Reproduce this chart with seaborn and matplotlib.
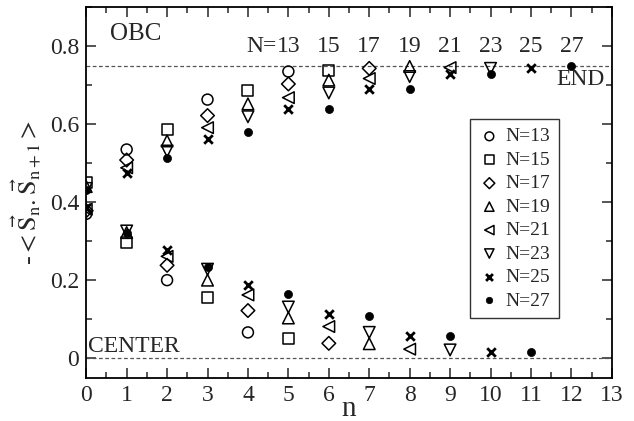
import matplotlib
matplotlib.use("Agg")
import matplotlib.pyplot as plt
from matplotlib.ticker import MultipleLocator
from matplotlib import font_manager
import seaborn as sns
import pandas as pd

# Nearest-neighbour spin correlations along open chains of N sites
chain_sizes = [13, 15, 17, 19, 21, 23, 25, 27]
corr_13 = [0.370, 0.535, 0.200, 0.663, 0.066, 0.735]
corr_15 = [0.450, 0.296, 0.587, 0.155, 0.686, 0.050, 0.738]
corr_17 = [0.378, 0.508, 0.238, 0.622, 0.122, 0.703, 0.038, 0.743]
corr_19 = [0.440, 0.322, 0.557, 0.200, 0.652, 0.103, 0.713, 0.037, 0.748]
corr_21 = [0.382, 0.488, 0.261, 0.591, 0.162, 0.668, 0.081, 0.717, 0.023, 0.745]
corr_23 = [0.435, 0.326, 0.531, 0.228, 0.619, 0.131, 0.680, 0.066, 0.722, 0.021, 0.743]
corr_25 = [0.384, 0.476, 0.278, 0.563, 0.188, 0.638, 0.113, 0.691, 0.056, 0.728, 0.017, 0.745]
corr_27 = [0.430, 0.320, 0.514, 0.234, 0.581, 0.165, 0.638, 0.109, 0.690, 0.056, 0.728, 0.016, 0.750]
correlations = [corr_13, corr_15, corr_17, corr_19, corr_21, corr_23, corr_25, corr_27]

markers = ["o", "s", "D", "^", "<", "v", "x", "o"]
x_ticks = list(range(0, 14))
y_ticks = [0, 0.2, 0.4, 0.6, 0.8]
y_tick_labels = ["0", "0.2", "0.4", "0.6", "0.8"]
edge_value = 0.75
center_value = 0.0

sns.set_style("ticks")
serif_names = [f.name for f in font_manager.fontManager.ttflist if "Liberation Serif" in f.name]
plt.rcParams["font.family"] = "serif"
plt.rcParams["font.serif"] = (serif_names[:1] or []) + ["Liberation Serif", "Times New Roman", "DejaVu Serif"]
plt.rcParams["mathtext.fontset"] = "stix"

fig = plt.figure(figsize=(6.34, 4.21), dpi=100)
ax = fig.add_axes([0.136, 0.103, 0.829, 0.880])

ax.axhline(edge_value, color="#555555", ls=(0, (3, 2)), lw=0.9, zorder=1)
ax.axhline(center_value, color="#555555", ls=(0, (3, 2)), lw=0.9, zorder=1)

for N, vals, m in zip(chain_sizes, correlations, markers):
    df = pd.DataFrame({"n": range(len(vals)), "corr": vals})
    label = f"N={N}"
    if m == "x":
        sns.scatterplot(data=df, x="n", y="corr", marker="x", color="black",
                        s=38, linewidth=2.0, ax=ax, label=label, zorder=3)
    elif N == 27:
        sns.scatterplot(data=df, x="n", y="corr", marker="o", color="black",
                        edgecolor="black", s=34, linewidth=0.5, ax=ax,
                        label=label, zorder=3)
    else:
        size = 48 if m == "D" else (70 if m in ("^", "<", "v") else 62)
        sns.scatterplot(data=df, x="n", y="corr", marker=m, facecolor="none",
                        edgecolor="black", s=size, linewidth=1.1, ax=ax,
                        label=label, zorder=3)

ax.set_xlim(0, 13)
ax.set_ylim(-0.05, 0.9)
ax.set_xticks(x_ticks)
ax.set_yticks(y_ticks)
ax.set_yticklabels(y_tick_labels)
ax.xaxis.set_minor_locator(MultipleLocator(0.5))
ax.yaxis.set_minor_locator(MultipleLocator(0.1))
ax.tick_params(which="both", direction="in", top=True, right=True,
               labelsize=17, width=1.1, pad=5)
ax.tick_params(which="major", length=7.5)
ax.tick_params(which="minor", length=4)
for sp in ax.spines.values():
    sp.set_linewidth(1.3)
    sp.set_color("black")

ax.set_xlabel("n", fontsize=21)
ax.xaxis.set_label_coords(0.5, -0.085)
ax.xaxis.label.set_va("center")
ax.set_ylabel(r"-$<\vec{\mathrm{S}}_{\mathrm{n}}.\vec{\mathrm{S}}_{\mathrm{n+1}}>$",
              fontsize=19, labelpad=4)

# Annotations
ax.text(0.59, 0.83, "OBC", fontsize=18, va="center", ha="left")
ax.text(0.04, 0.03, "CENTER", fontsize=17, va="center", ha="left")
ax.text(12.82, 0.715, "END", fontsize=17, va="center", ha="right")
for i, N in enumerate(chain_sizes):
    pos = len(correlations[i]) - 1
    ax.text(pos, 0.80, str(N), fontsize=17, ha="center", va="center")
ax.text(4.72, 0.80, "N=", fontsize=17, ha="right", va="center")

leg = ax.legend(loc="upper left", bbox_to_anchor=(0.730, 0.698),
                frameon=True, fancybox=False, fontsize=14, markerscale=0.8,
                handletextpad=0.25, labelspacing=0.3, borderpad=0.45,
                handlelength=1.1, borderaxespad=0)
leg.get_frame().set_edgecolor("black")
leg.get_frame().set_linewidth(1.0)

fig.savefig("out.png", dpi=100)
